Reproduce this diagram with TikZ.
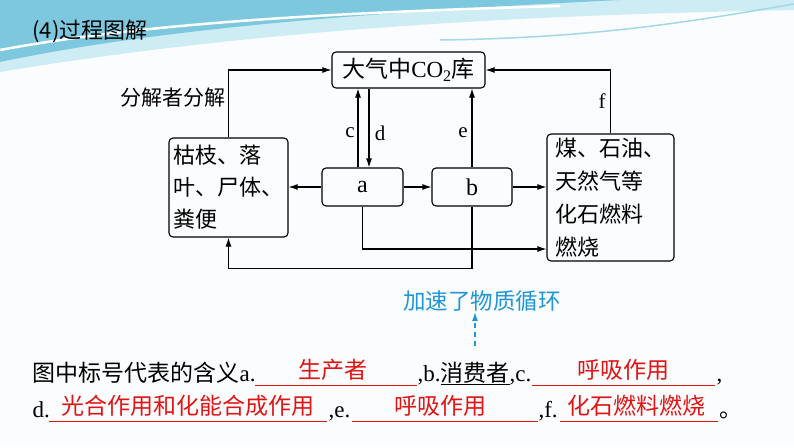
\documentclass[tikz,border=0pt]{standalone}
\usepackage{fontspec}
\setmainfont{Liberation Serif}
\newfontfamily\cjk{Noto Sans CJK SC}
\usetikzlibrary{arrows.meta}

\definecolor{bgpaper}{RGB}{250,252,253}
\definecolor{wave}{RGB}{125,200,222}
\definecolor{wavelight}{RGB}{205,236,244}
\definecolor{hint}{RGB}{30,150,215}
\definecolor{answer}{RGB}{225,20,20}

\tikzset{
  box/.style={shape=rectangle,draw=black,rounded corners=4pt,inner sep=0pt,line width=1.1pt},
  dtext/.style={font=\fontsize{22}{32}\selectfont},
  letter/.style={font=\fontsize{21}{24}\selectfont,inner sep=0pt},
  line1/.style={anchor=base west,inner sep=0pt,font=\fontsize{23}{28}\selectfont},
  fill1/.style={anchor=base,inner sep=0pt,text=answer,font=\fontsize{23}{28}\selectfont\cjk}
}

\begin{document}
\begin{tikzpicture}[x=1pt,y=-1pt,>={Latex[length=9pt,width=6pt]},line width=1.1pt]
	    \useasboundingbox (0,0) rectangle (794,447);
	    \fill[bgpaper] (0,0) rectangle (794,447);
	    % top wave
	    \fill[wavelight] (0,0) -- (794,0) -- (794,10) .. controls (600,14) and (300,22) .. (0,72) -- cycle;
	    \fill[wave] (0,0) -- (620,0) .. controls (420,10) and (180,24) .. (0,62) -- cycle;
	    \draw[white,line width=2.5pt] (0,50) .. controls (150,22) and (350,12) .. (560,6);
	    \draw[wave!70!white,line width=1.5pt] (440,40) .. controls (600,38) and (700,20) .. (794,4);

	    \node[anchor=west,inner sep=0pt,font=\fontsize{22}{26}\selectfont\cjk] (title) at (32,31) {(4)过程图解};

	    \node[box,minimum width=153pt,minimum height=36pt,font=\fontsize{23}{28}\selectfont] (co2) at (408.5,70) {{\cjk 大气中}CO\textsubscript{2}{\cjk 库}};
	    \node[box,dtext,align=left,minimum width=119pt,minimum height=99pt] (dead) at (228.5,187.5) {\cjk 枯枝、落\\\cjk 叶、尸体、\\\cjk 粪便};
	    \node[box,minimum width=81pt,minimum height=38pt,font=\fontsize{24}{28}\selectfont] (a) at (362.5,187) {a};
	    \node[box,minimum width=80pt,minimum height=38pt,font=\fontsize{24}{28}\selectfont] (b) at (472,187) {b};
	    \node[box,align=left,minimum width=127pt,minimum height=127pt,font=\fontsize{22}{33}\selectfont] (fuel) at (610.5,197.5) {\cjk 煤、石油、\\\cjk 天然气等\\\cjk 化石燃料\\\cjk 燃烧};

	    \node[anchor=east,inner sep=0pt,font=\fontsize{21}{26}\selectfont\cjk] (decomp) at (226,98) {分解者分解};
	    \node[letter] (c) at (350,133) {c};
	    \node[letter] (d) at (380,133) {d};
	    \node[letter] (e) at (463,133) {e};
	    \node[letter] (f) at (602,101) {f};

	    \draw [->] (dead.north) |- (co2.west);
	    \draw [->] ([xshift=-4.5pt]a.north) -- ([xshift=-4.5pt]a.north |- co2.south);
	    \draw [->] ([xshift=6.5pt]a.north |- co2.south) -- ([xshift=6.5pt]a.north);
	    \draw [->] (b.north) -- (b.north |- co2.south);
	    \draw [->] (fuel.north) |- (co2.east);
	    \draw [->] (a.west) -- (a.west -| dead.east);
	    \draw [->] (a.east) -- (b.west);
	    \draw [->] (b.east) -- (b.east -| fuel.west);
	    \draw [->] (a.south) |- ([yshift=-51.5pt]fuel.west);
	    \draw [->] (b.south) -- ++(0,62) -| (dead.south);

	    % hint
	    \node[inner sep=0pt,text=hint,font=\fontsize{22.5}{26}\selectfont\cjk] (speed) at (482,301) {加速了物质循环};
	    \coordinate (tail) at (475,346);
	    \draw [->,hint,dashed,line width=1.2pt,dash pattern=on 5pt off 4pt] (tail) -- (speed.south -| tail);

	    % answers
	    \node[line1] (t1) at (32,381) {{\cjk 图中标号代表的含义}a.};
	    \draw[answer,line width=0.9pt] (255,385) -- (417,385);
	    \node[fill1] (fa) at (333,378) {生产者};
	    \node[line1] (t2) at (417,381) {,b.\underline{\cjk 消费者},c.};
	    \draw[answer,line width=0.9pt] (532,385) -- (715,385);
	    \node[fill1] (fc) at (623,378) {呼吸作用};
	    \node[line1] (t3) at (716,381) {,};

	    \node[line1] (t4) at (32,417) {d.};
	    \draw[answer,line width=0.9pt] (49,421) -- (327,421);
	    \node[fill1] (fd) at (188,414) {光合作用和化能合成作用};
	    \node[line1] (t5) at (328,417) {,e.};
	    \draw[answer,line width=0.9pt] (352,421) -- (538,421);
	    \node[fill1] (fe) at (440,414) {呼吸作用};
	    \node[line1] (t6) at (538,417) {,f.};
	    \draw[answer,line width=0.9pt] (560,421) -- (718,421);
	    \node[fill1] (ff) at (636,414) {化石燃料燃烧};
	    \node[line1,font=\fontsize{23}{28}\selectfont\cjk] (t7) at (719,417) {。};
	\end{tikzpicture}
\end{document}
